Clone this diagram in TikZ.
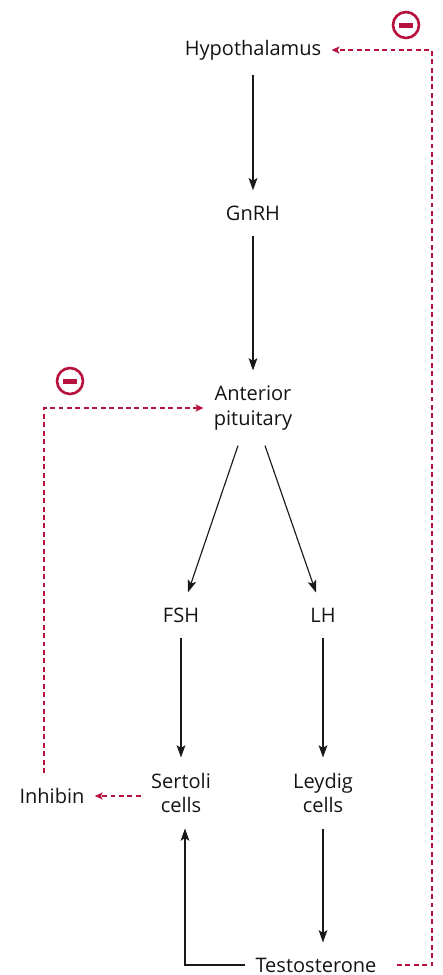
\documentclass[tikz,border=0pt]{standalone}
\usepackage{fontspec}
\setmainfont{Open Sans}
\usetikzlibrary{arrows.meta,positioning}
\definecolor{inhibred}{RGB}{183,18,62}

\begin{document}
\begin{tikzpicture}[
        x=0.02cm, y=-0.02cm,
        every node/.style={font=\fontsize{11.4}{14.2}\selectfont, align=center, text=black!92, inner xsep=0.2cm, inner ysep=0.3cm},
        stim/.style={-{Stealth[length=7pt,width=5pt,inset=1.6pt]}, line width=0.65pt, black!90},
        feedback/.style={-{Stealth[length=4.5pt,width=4pt,inset=1pt]}, inhibred, line width=0.8pt, dash pattern=on 2.8pt off 2pt},
        minus/.style={circle, draw=inhibred, line width=1.5pt, minimum size=0.52cm, inner sep=0pt}
    ]
        \useasboundingbox (0,0) rectangle (443,975);

        \node (hyp) at (253,50) {Hypothalamus};
        \node (gnrh) at (253,213) {GnRH};
        \node (ant) at (253,408) {Anterior\\pituitary};
        \node (fsh) at (181,615) {FSH};
        \node (lh) at (323,615) {LH};
        \node (sert) at (181,793) {Sertoli\\cells};
        \node (leyd) at (323,793) {Leydig\\cells};
        \node (inh) at (52,796) {Inhibin};
        \node (test) at (316,965) {Testosterone};
        \coordinate (rr) at (432,0);

        \node[minus] (minus1) at (406,25) {\textcolor{inhibred}{\rule{0.28cm}{0.1cm}}};
        \node[minus] (minus2) at (70,381) {\textcolor{inhibred}{\rule{0.28cm}{0.1cm}}};

        \draw[stim] (hyp) -- (gnrh);
        \draw[stim] (gnrh) -- (ant);
        \draw[stim] ([xshift=-0.3cm]ant.south) -- ([xshift=0.14cm]fsh.north);
        \draw[stim] ([xshift=0.24cm]ant.south) -- ([xshift=-0.14cm]lh.north);
        \draw[stim] (fsh) -- (sert);
        \draw[stim] (lh) -- (leyd);
        \draw[stim] (leyd) -- (leyd |- test.north);
        \draw[stim] (test.west) -| ([xshift=0.08cm]sert.south);

        \draw[feedback] (sert.west |- inh.east) -- (inh.east);
        \draw[feedback] ([xshift=-0.16cm]inh.north) |- (ant.west);
        \draw[feedback] ([xshift=0.2cm]test.east) -- (test.east -| rr) -- (hyp.east -| rr) -- (hyp.east);
    \end{tikzpicture}
\end{document}
